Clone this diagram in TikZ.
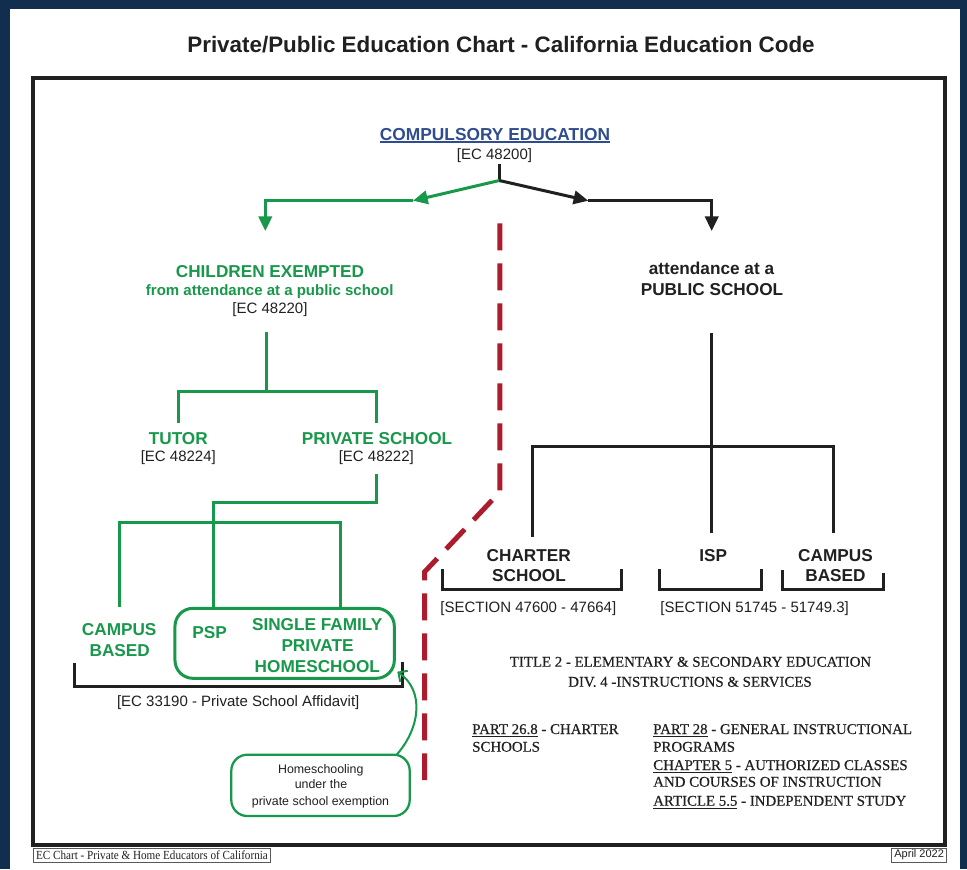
\documentclass[tikz,border=0pt]{standalone}
\usepackage{fontspec}
\setmainfont{Liberation Serif}
\setsansfont{Liberation Sans}
\newfontfamily\codeserif[FakeBold=0.4]{Liberation Serif}
\newfontfamily\footserif[FakeStretch=0.9]{Liberation Serif}
\usetikzlibrary{arrows.meta}
\definecolor{navy}{RGB}{18,46,79}
\definecolor{egreen}{RGB}{24,152,74}
\definecolor{eblue}{RGB}{47,77,142}
\definecolor{ered}{RGB}{172,28,44}
\definecolor{ink}{RGB}{32,32,32}
\begin{document}
\begin{tikzpicture}[x=0.75pt,y=-0.75pt,
  ttl/.style={font=\sffamily\bfseries\fontsize{16.8}{19}\selectfont,text=ink,inner sep=0pt,anchor=base},
  bluehd/.style={font=\sffamily\bfseries\fontsize{13}{15}\selectfont,text=eblue,inner sep=0pt,anchor=base},
  ghd/.style={font=\sffamily\bfseries\fontsize{12.9}{15}\selectfont,text=egreen,inner sep=0pt,anchor=base},
  ghdsub/.style={font=\sffamily\bfseries\fontsize{11.25}{13}\selectfont,text=egreen,inner sep=0pt,anchor=base},
  khd/.style={font=\sffamily\bfseries\fontsize{12.9}{15}\selectfont,text=ink,inner sep=0pt,anchor=base},
  refx/.style={font=\sffamily\fontsize{11.25}{13}\selectfont,text=ink,inner sep=0pt,anchor=base},
  hstxt/.style={font=\sffamily\fontsize{9.3}{11}\selectfont,text=ink,inner sep=0pt,anchor=base},
  serifc/.style={font=\codeserif\fontsize{11.15}{13}\selectfont,text=ink,inner sep=0pt,anchor=base},
  serifl/.style={font=\codeserif\fontsize{11.15}{13}\selectfont,text=ink,inner sep=0pt,anchor=base west},
  gline/.style={draw=egreen,line width=2.25pt},
  kline/.style={draw=ink,line width=2.25pt},
  garrow/.style={gline,-{Triangle[length=11pt,width=10pt]}},
  karrow/.style={kline,-{Triangle[length=11pt,width=10pt]}},
  reddash/.style={draw=ered,line width=3.75pt,dash pattern=on 20.25pt off 9.75pt},
  foot/.style={draw=ink!75,line width=0.6pt,inner xsep=2pt,inner ysep=1.2pt,minimum height=10.5pt}
]
\useasboundingbox (0,0) rectangle (967,869);
\fill[navy] (0,0) rectangle (967,869);
\fill[white] (10,9) rectangle (960,869);
\draw[ink,line width=3pt] (32.7,78.3) rectangle (945,845);

% title
\node[ttl] (title) at (501,52.5) {Private/Public Education Chart - California Education Code};

% compulsory
\node[bluehd] (comp) at (495,140) {COMPULSORY EDUCATION};
\draw[eblue,line width=1.1pt] ([yshift=-1.6pt]comp.base west) -- ([yshift=-1.6pt]comp.base east);
\node[refx] (compref) at (494.5,159) {[EC 48200]};

% top arrows
\coordinate (c0) at (499.3,164);
\coordinate (c1) at (499.3,180.5);
\coordinate (gA) at (413,200.7);
\coordinate (gB) at (265.3,200.7);
\coordinate (gC) at (265.3,231);
\coordinate (kA) at (588.3,200.7);
\coordinate (kB) at (711.7,200.7);
\coordinate (kC) at (711.7,231);
\draw[kline] (c0) -- (c1);
\draw[garrow] (c1) -- (gA);
\draw[garrow] (gA) -- (gB) -- (gC);
\draw[karrow] (c1) -- (kA);
\draw[karrow] (kA) -- (kB) -- (kC);

% red dashed divider
\coordinate (r0) at (499.8,223.3);
\coordinate (r1) at (499.8,492);
\coordinate (r2) at (424.5,572);
\coordinate (r3) at (424.5,780);
\draw[reddash] (r0) -- (r1) -- (r2) -- (r3);

% children exempted branch
\node[ghd] (ce) at (270,277) {CHILDREN EXEMPTED};
\node[ghdsub] (cesub) at (269.7,295.5) {from attendance at a public school};
\node[refx] (ceref) at (270,313) {[EC 48220]};
\coordinate (ceB) at (266,331.7);
\coordinate (ceJ) at (266,391);
\coordinate (tuJ) at (178,391);
\coordinate (psJ) at (376.7,391);
\coordinate (tuT) at (178,423.3);
\coordinate (psT) at (376.7,423.3);
\draw[gline] (ceB) -- (ceJ);
\draw[gline] (tuT) -- (tuJ) -- (psJ) -- (psT);
\node[ghd] (tutor) at (178.3,444) {TUTOR};
\node[refx] (tutorref) at (178.3,461) {[EC 48224]};
\node[ghd] (ps) at (377,444) {PRIVATE SCHOOL};
\node[refx] (psref) at (376.3,461) {[EC 48222]};

\coordinate (psB) at (376,474);
\coordinate (psK) at (376,502.3);
\coordinate (pspK) at (213.7,502.3);
\coordinate (pspT) at (213.7,607.5);
\draw[gline] (psB) -- (psK) -- (pspK) -- (pspT);
\coordinate (cbT) at (119.3,607);
\coordinate (cbK) at (119.3,522.3);
\coordinate (sfK) at (340.7,522.3);
\coordinate (sfT) at (340.7,607.5);
\draw[gline] (cbT) -- (cbK) -- (sfK) -- (sfT);

% private school options
\node[draw=egreen,line width=2.25pt,rounded corners=13.5pt,minimum width=164.5pt,minimum height=52.5pt,inner sep=0pt] (pspbox) at (284.65,643.3) {};
\node[ghd] (cb1) at (119.2,635.3) {CAMPUS};
\node[ghd] (cb2) at (119.7,656.7) {BASED};
\node[ghd] (psp) at (209.7,638.3) {PSP};
\node[ghd] (sf1) at (317.2,630.7) {SINGLE FAMILY};
\node[ghd] (sf2) at (317.5,651.7) {PRIVATE};
\node[ghd] (sf3) at (317.3,672.3) {HOMESCHOOL};

\coordinate (brL) at (74.3,663.3);
\coordinate (brLB) at (74.3,686.7);
\coordinate (brRB) at (402.7,686.7);
\coordinate (brR) at (402.7,661.7);
\draw[kline] (brL) -- (brLB) -- (brRB) -- (brR);
\node[refx] (aff) at (238.2,706) {[EC 33190 - Private School Affidavit]};

% homeschooling note
\node[draw=egreen,line width=1.7pt,rounded corners=12pt,minimum width=133.8pt,minimum height=46pt,inner sep=0pt] (hsbox) at (320.5,785.35) {};
\node[hstxt] (hs1) at (320.8,773.3) {Homeschooling};
\node[hstxt] (hs2) at (321,788.5) {under the};
\node[hstxt] (hs3) at (320.5,805) {private school exemption};
\coordinate (hsA) at (396.7,754.7);
\coordinate (pspC) at (397.3,671.7);
\draw[draw=egreen,line width=1.5pt,-{Straight Barb[length=5pt,width=10pt]}] (hsA) .. controls (421,727) and (424,690) .. (pspC);

% public school branch
\node[khd] (pub1) at (711.5,274) {attendance at a};
\node[khd] (pub2) at (712,295) {PUBLIC SCHOOL};
\coordinate (pubB) at (711.7,333);
\coordinate (pubJ) at (711.7,446);
\coordinate (ispT) at (711.7,533);
\coordinate (chJ) at (532.7,446);
\coordinate (chT) at (532.7,536.7);
\coordinate (pcJ) at (833.3,446);
\coordinate (pcT) at (833.3,532.7);
\draw[kline] (pubB) -- (ispT);
\draw[kline] (chT) -- (chJ) -- (pcJ) -- (pcT);

\node[khd] (ch1) at (528.7,561.7) {CHARTER};
\node[khd] (ch2) at (529,581.7) {SCHOOL};
\node[khd] (isp) at (713.3,561.7) {ISP};
\node[khd] (pc1) at (835.5,561.7) {CAMPUS};
\node[khd] (pc2) at (835.5,581.7) {BASED};

\coordinate (b1a) at (442.7,569);
\coordinate (b1b) at (442.7,589.3);
\coordinate (b1c) at (621.7,589.3);
\coordinate (b1d) at (621.7,569);
\draw[kline] (b1a) -- (b1b) -- (b1c) -- (b1d);
\coordinate (b2a) at (659.3,569);
\coordinate (b2b) at (659.3,589.3);
\coordinate (b2c) at (761,589.3);
\coordinate (b2d) at (761,569);
\draw[kline] (b2a) -- (b2b) -- (b2c) -- (b2d);
\coordinate (b3a) at (782.7,570);
\coordinate (b3b) at (782.7,589.3);
\coordinate (b3c) at (883.3,589.3);
\coordinate (b3d) at (883.3,572.7);
\draw[kline] (b3a) -- (b3b) -- (b3c) -- (b3d);

\node[refx] (sec1) at (528.3,612.7) {[SECTION 47600 - 47664]};
\node[refx] (sec2) at (754.7,612.7) {[SECTION 51745 - 51749.3]};

% code references
\node[serifc] (t1) at (690.5,666.7) {TITLE 2 - ELEMENTARY \& SECONDARY EDUCATION};
\node[serifc] (t2) at (690,686.7) {DIV. 4 -INSTRUCTIONS \& SERVICES};
\node[serifl] (p1) at (472,734) {\underline{PART 26.8} - CHARTER};
\node[serifl] (p2) at (472,751.7) {SCHOOLS};
\node[serifl] (q1) at (653,734) {\underline{PART 28} - GENERAL INSTRUCTIONAL};
\node[serifl] (q2) at (653,751.7) {PROGRAMS};
\node[serifl] (q3) at (653,770) {\underline{CHAPTER 5} - AUTHORIZED CLASSES};
\node[serifl] (q4) at (653,786.7) {AND COURSES OF INSTRUCTION};
\node[serifl] (q5) at (653,805.7) {\underline{ARTICLE 5.5} - INDEPENDENT STUDY};

% footer
\node[foot,anchor=west,font=\footserif\fontsize{9.3}{10}\selectfont,text=ink] (f1) at (33,855) {EC Chart - Private \& Home Educators of California};
\node[foot,anchor=east,font=\sffamily\fontsize{8.25}{9}\selectfont,text=ink] (f2) at (947,855) {April 2022};
\end{tikzpicture}
\end{document}
